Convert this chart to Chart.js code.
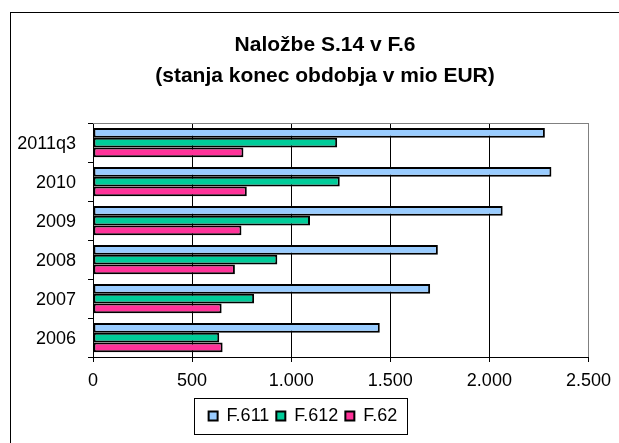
<!DOCTYPE html>
<html>
<head>
<meta charset="utf-8">
<script src="https://cdn.jsdelivr.net/npm/chart.js@4.4.1/dist/chart.umd.min.js"></script>
<style>
  html, body { margin: 0; padding: 0; background: #fff; }
  #chart { display: block; }
</style>
</head>
<body>
<canvas id="chart" width="619" height="443"></canvas>
<script>
const categories = ['2011q3', '2010', '2009', '2008', '2007', '2006'];
const seriesNames = ['F.611', 'F.612', 'F.62'];
const f611 = [2280, 2313, 2067, 1740, 1701, 1447];
const f612 = [1232, 1245, 1095, 930, 813, 637];
const f62 = [759, 776, 749, 716, 649, 654];
const xTicks = [0, 500, 1000, 1500, 2000, 2500];
const titleLines = ['Naložbe S.14 v F.6', '(stanja konec obdobja v mio EUR)'];

const colors = ['#99CCFF', '#00CC99', '#FF3399'];
const fontFamily = '"Liberation Sans", Arial, sans-serif';

const fmt = (v) => String(v).replace(/\B(?=(\d{3})+(?!\d))/g, '.');

// frame around whole chart + plot border + legend box
const framePlugin = {
    id: 'frames',
    beforeDraw: (chart) => {
        const ctx = chart.ctx;
        // the title sits a bit right of the legend in the original
        chart.titleBlock.left = 59;
        chart.titleBlock.right = 591;
        ctx.save();
        ctx.fillStyle = '#fff';
        ctx.fillRect(0, 0, chart.width, chart.height);
        ctx.strokeStyle = '#000';
        ctx.lineWidth = 1;
        ctx.strokeRect(10.5, 12.5, 1000, 1000);
        ctx.restore();
    },
    beforeDatasetsDraw: (chart) => {
        const { ctx, chartArea } = chart;
        ctx.save();
        ctx.strokeStyle = '#808080';
        ctx.lineWidth = 1;
        ctx.beginPath();
        ctx.moveTo(chartArea.left, Math.round(chartArea.top) + 0.5);
        ctx.lineTo(chartArea.right, Math.round(chartArea.top) + 0.5);
        ctx.stroke();
        ctx.restore();
    },
    afterDraw: (chart) => {
        const boxes = chart.legend.legendHitBoxes;
        if (!boxes || !boxes.length) return;
        const ctx = chart.ctx;
        const left = Math.min(...boxes.map(b => b.left)) - 15;
        const right = Math.max(...boxes.map(b => b.left + b.width)) + 9;
        const mid = boxes[0].top + boxes[0].height / 2;
        ctx.save();
        ctx.strokeStyle = '#000';
        ctx.lineWidth = 1;
        ctx.strokeRect(Math.round(left) + 0.5, Math.round(mid - 18) + 0.5, Math.round(right - left), 36);
        ctx.restore();
    }
};

new Chart(document.getElementById('chart').getContext('2d'), {
    type: 'bar',
    data: {
        labels: categories,
        datasets: [f611, f612, f62].map((d, i) => ({
            label: seriesNames[i],
            data: d,
            backgroundColor: colors[i],
            borderColor: '#000',
            borderWidth: 2,
            borderSkipped: false,
            categoryPercentage: 0.75,
            barPercentage: 1.0
        }))
    },
    options: {
        indexAxis: 'y',
        responsive: false,
        animation: false,
        layout: { padding: { left: 15, right: 28, top: 0, bottom: 8 } },
        scales: {
            x: {
                min: 0,
                max: 2500,
                afterBuildTicks: (scale) => { scale.ticks = xTicks.map(v => ({ value: v })); },
                afterFit: (scale) => { scale.height = 43; },
                ticks: {
                    color: '#000',
                    font: { family: fontFamily, size: 18 },
                    padding: 8,
                    maxRotation: 0,
                    callback: (v) => fmt(v)
                },
                grid: {
                    color: (c) => (c.tick && c.tick.value === 2500) ? '#808080' : '#000',
                    tickColor: '#000',
                    tickLength: 5,
                    lineWidth: 1
                },
                border: { color: '#000', width: 1 }
            },
            y: {
                afterFit: (scale) => { scale.width = 78; },
                ticks: {
                    color: '#000',
                    font: { family: fontFamily, size: 18 },
                    padding: 12,
                    labelOffset: 2
                },
                grid: {
                    offset: true,
                    drawOnChartArea: false,
                    color: '#000',
                    tickLength: 5
                },
                border: { color: '#000', width: 1 }
            }
        },
        plugins: {
            title: {
                display: true,
                text: titleLines,
                color: '#000',
                font: { family: fontFamily, size: 21, weight: 'bold', lineHeight: 1.5 },
                padding: { top: 29, bottom: 31 }
            },
            legend: {
                position: 'bottom',
                labels: {
                    boxWidth: 9,
                    boxHeight: 9,
                    color: '#000',
                    padding: 7,
                    font: { family: fontFamily, size: 18 }
                }
            },
            tooltip: { enabled: false }
        }
    },
    plugins: [framePlugin]
});
</script>
</body>
</html>
